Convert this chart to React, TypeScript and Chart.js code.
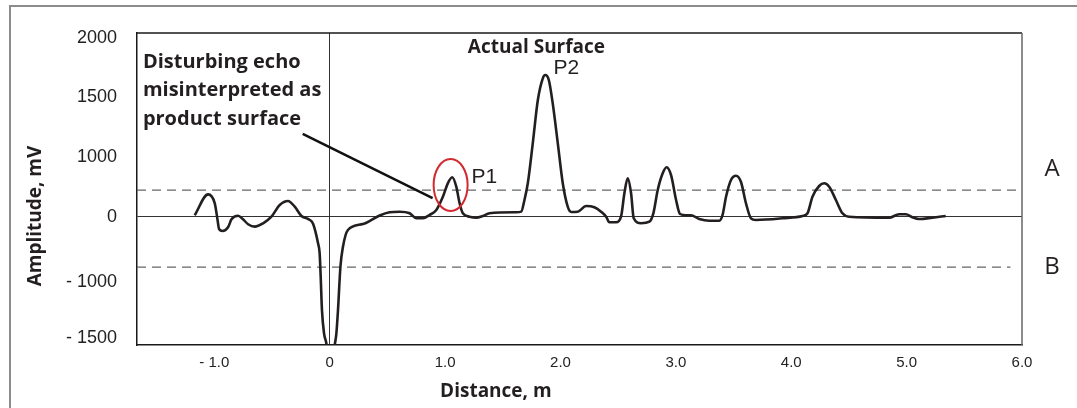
import React, { useEffect, useRef } from 'react';
import { Chart, LinearScale, registerables } from 'chart.js';

// ---- data ----
const distanceM = [
  -1.17, -1.054, -0.996, -0.976, -0.958, -0.929, -0.881, -0.851, -0.794, -0.751,
  -0.707, -0.649, -0.577, -0.505, -0.433, -0.361, -0.303, -0.245, -0.188, -0.145,
  -0.101, -0.087, -0.078, -0.067, -0.049, -0.029, -0.018, 0.032, 0.046, 0.058,
  0.072, 0.093, 0.115, 0.158, 0.288,
  0.433, 0.519, 0.606, 0.693, 0.751, 0.808, 0.866, 0.924, 0.981, 1.024,
  1.062, 1.097, 1.126, 1.154, 1.212, 1.27, 1.327, 1.385, 1.616, 1.66,
  1.688, 1.717, 1.76, 1.804, 1.847, 1.868, 1.899, 1.933, 1.977, 2.02,
  2.063, 2.093, 2.15, 2.223, 2.294, 2.352, 2.396, 2.424, 2.482, 2.525,
  2.554, 2.583, 2.612, 2.635, 2.699, 2.771, 2.805, 2.843, 2.886, 2.92,
  2.958, 3.002, 3.036, 3.088, 3.131, 3.203, 3.29, 3.377, 3.405, 3.435,
  3.478, 3.521, 3.564, 3.608, 3.651, 3.694, 3.925, 4.098, 4.141, 4.184,
  4.242, 4.286, 4.329, 4.387, 4.444, 4.502, 4.848, 4.935, 4.993, 5.05,
  5.108, 5.223, 5.339,
];
const amplitudeMv = [
  30, 380, 230, 5, -189, -216, -159, -35, 22, -35,
  -112, -149, -97, 5, 202, 269, 173, 17, -30, -100,
  -405, -559, -919, -1250, -1458, -1547, -1640, -1640, -1547, -1458,
  -1250, -765, -457, -200, -108,
  25, 79, 89, 62, -20, -20, 34, 118, 341, 566,
  667, 509, 230, 62, 5, -11, 17, 62, 79, 90,
  286, 566, 1118, 1479, 1661, 1689, 1647, 1451, 1118, 566,
  173, 84, 89, 185, 163, 89, 5, -82, -82, 5,
  398, 650, 398, -20, -97, -72, 62, 454, 734, 835,
  706, 286, 50, 29, 29, -31, -57, -57, 34, 341,
  622, 694, 593, 230, -20, -46, -20, 17, 62, 341,
  521, 566, 509, 286, 62, 5, -11, 45, 45, -5,
  -31, -11, 17,
];
const xTicks = [-1, 0, 1, 2, 3, 4, 5, 6];
const yTicks = [2000, 1500, 1000, 0, -1000, -1500];
const thresholdA = 450;
const thresholdB = -770;
const thresholdAExtent = [-1.67, 5.98];
const thresholdBExtent = [-1.67, 5.9];

// ---- non-uniform amplitude axis of the original (labels evenly spaced) ----
const Y_KNOT_VALUES = [-1562, -1500, -1000, 0, 1000, 1500, 2000, 2042];
const Y_KNOT_POS = [0, 0.0224, 0.2019, 0.4103, 0.601, 0.7933, 0.984, 1];

function valueToDecimal(v: number): number {
  const V = Y_KNOT_VALUES, P = Y_KNOT_POS, n = V.length;
  let i = 0;
  if (v <= V[0]) i = 0;
  else if (v >= V[n - 1]) i = n - 2;
  else {
    while (i < n - 2 && v > V[i + 1]) i++;
  }
  const t = (v - V[i]) / (V[i + 1] - V[i]);
  return P[i] + t * (P[i + 1] - P[i]);
}
function decimalToValue(d: number): number {
  const V = Y_KNOT_VALUES, P = Y_KNOT_POS, n = P.length;
  let i = 0;
  if (d <= P[0]) i = 0;
  else if (d >= P[n - 1]) i = n - 2;
  else {
    while (i < n - 2 && d > P[i + 1]) i++;
  }
  const t = (d - P[i]) / (P[i + 1] - P[i]);
  return V[i] + t * (V[i + 1] - V[i]);
}

class PiecewiseScale extends LinearScale {
  static id = 'piecewise';
  static defaults = LinearScale.defaults;
  getPixelForValue(value: any) {
    if (value === null || value === undefined || Number.isNaN(+value)) return NaN;
    return (this as any).getPixelForDecimal(valueToDecimal(+value));
  }
  getValueForPixel(pixel: number) {
    return decimalToValue((this as any).getDecimalForPixel(pixel));
  }
}

Chart.register(...registerables, PiecewiseScale as any);

const INK = '#231f20';
const SANS = '"Liberation Sans", Arial, sans-serif';
const HUMAN = '"Open Sans", "Noto Sans", sans-serif';

const fmtX = (v: number) => (v === 0 ? '0' : v < 0 ? '- ' + Math.abs(v).toFixed(1) : v.toFixed(1));
const fmtY = (v: number) => (v < 0 ? '- ' + Math.abs(v) : String(v));

const annotations = {
  id: 'annotations',
  afterDraw(chart: any) {
    const { ctx, chartArea: a, scales } = chart;
    const x = scales.x, y = scales.y;
    const X = (v: number) => x.getPixelForValue(v);
    const Y = (v: number) => y.getPixelForValue(v);
    ctx.save();
    // frame top / right
    ctx.lineWidth = 1.5;
    ctx.strokeStyle = '#1a1a1a';
    ctx.beginPath();
    ctx.moveTo(a.left, a.top);
    ctx.lineTo(a.right, a.top);
    ctx.stroke();
    ctx.strokeStyle = '#666';
    ctx.beginPath();
    ctx.moveTo(a.right, a.top);
    ctx.lineTo(a.right, a.bottom);
    ctx.stroke();

    // pointer line
    ctx.strokeStyle = '#111';
    ctx.lineWidth = 2.5;
    ctx.beginPath();
    ctx.moveTo(X(-0.234), Y(1196));
    ctx.lineTo(X(0.892), Y(319));
    ctx.stroke();

    // red ellipse around P1
    ctx.strokeStyle = '#d12a2f';
    ctx.lineWidth = 2;
    ctx.beginPath();
    ctx.ellipse(X(1.048), Y(538), 17, 26, 0, 0, Math.PI * 2);
    ctx.stroke();

    ctx.fillStyle = INK;
    ctx.textBaseline = 'alphabetic';
    // P1 / P2
    ctx.font = `21px ${SANS}`;
    ctx.textAlign = 'left';
    ctx.fillText('P1', X(1.229), Y(571));
    ctx.fillText('P2', X(1.939), Y(1697));

    // Actual Surface
    ctx.font = `bold 19px ${HUMAN}`;
    ctx.textAlign = 'center';
    ctx.fillText('Actual Surface', X(1.792), Y(1874));

    // Disturbing echo text
    ctx.font = `bold 20px ${HUMAN}`;
    ctx.textAlign = 'left';
    const lines = ['Disturbing echo', 'misinterpreted as', 'product surface'];
    const base = Y(1748);
    lines.forEach((t, i) => ctx.fillText(t, X(-1.619), base + i * 28.5));

    // A / B
    ctx.font = `24px ${HUMAN}`;
    ctx.textAlign = 'center';
    ctx.textBaseline = 'middle';
    ctx.fillText('A', a.right + 30, Y(thresholdA) - 21);
    ctx.fillText('B', a.right + 30, Y(thresholdB));

    // axis titles
    ctx.font = `bold 19px ${HUMAN}`;
    ctx.textBaseline = 'middle';
    ctx.save();
    ctx.translate(a.left - 101, Y(0) - 1);
    ctx.rotate(-Math.PI / 2);
    ctx.fillText('Amplitude, mV', 0, 0);
    ctx.restore();
    ctx.textBaseline = 'alphabetic';
    ctx.fillText('Distance, m', X(1.44), a.bottom + 52);
    ctx.restore();
  },
};

export default function App() {
  const ref = useRef<HTMLCanvasElement | null>(null);
  useEffect(() => {
    if (!ref.current) return;
    const curve = distanceM.map((d, i) => ({ x: d, y: amplitudeMv[i] }));
    const chart = new Chart(ref.current, {
      type: 'line',
      data: {
        datasets: [
          {
            data: curve,
            borderColor: INK,
            borderWidth: 2.6,
            pointRadius: 0,
            cubicInterpolationMode: 'monotone',
            fill: false,
            order: 0,
          },
          {
            data: thresholdAExtent.map((d) => ({ x: d, y: thresholdA })),
            borderColor: '#666',
            borderWidth: 1.3,
            borderDash: [9, 6],
            pointRadius: 0,
            order: 1,
          },
          {
            data: thresholdBExtent.map((d) => ({ x: d, y: thresholdB })),
            borderColor: '#666',
            borderWidth: 1.3,
            borderDash: [9, 6],
            pointRadius: 0,
            order: 1,
          },
        ],
      },
      options: {
        responsive: false,
        animation: false,
        devicePixelRatio: 1,
        layout: { padding: { left: 0, top: 33, right: 55, bottom: 0 } },
        plugins: { legend: { display: false }, tooltip: { enabled: false } },
        scales: {
          x: {
            type: 'linear',
            min: -1.67,
            max: 6,
            afterBuildTicks: (s: any) => {
              s.ticks = xTicks.map((v) => ({ value: v }));
            },
            afterFit: (s: any) => {
              s.height = 63;
            },
            grid: {
              drawTicks: false,
              lineWidth: 1,
              color: (c: any) => (c.tick && c.tick.value === 0 ? '#333' : 'rgba(0,0,0,0)'),
            },
            border: { display: true, color: '#1a1a1a', width: 1.5 },
            ticks: {
              autoSkip: false,
              maxRotation: 0,
              padding: 9,
              color: '#222',
              font: { family: SANS, size: 15 },
              callback: (v: any) => fmtX(+v),
            },
          },
          y: {
            type: 'piecewise' as any,
            min: -1562,
            max: 2042,
            afterBuildTicks: (s: any) => {
              s.ticks = yTicks.map((v) => ({ value: v }));
            },
            afterFit: (s: any) => {
              s.width = 137;
            },
            grid: {
              drawTicks: false,
              lineWidth: 1,
              color: (c: any) => (c.tick && c.tick.value === 0 ? '#333' : 'rgba(0,0,0,0)'),
            },
            border: { display: true, color: '#1a1a1a', width: 1.5 },
            ticks: {
              autoSkip: false,
              padding: 20,
              color: '#222',
              font: { family: SANS, size: 18 },
              callback: (v: any) => fmtY(+v),
            },
          },
        },
      } as any,
      plugins: [annotations],
    });
    return () => chart.destroy();
  }, []);

  return (
    <div style={{ position: 'absolute', left: 0, top: 0, width: 1077, height: 408, overflow: 'hidden', background: '#fff' }}>
      <div
        style={{
          position: 'absolute',
          left: 9,
          top: 5,
          width: 1200,
          height: 600,
          border: '2px solid #8c8c8c',
          boxSizing: 'border-box',
        }}
      />
      <canvas ref={ref} width={1077} height={408} style={{ position: 'absolute', left: 0, top: 0, width: 1077, height: 408 }} />
    </div>
  );
}
